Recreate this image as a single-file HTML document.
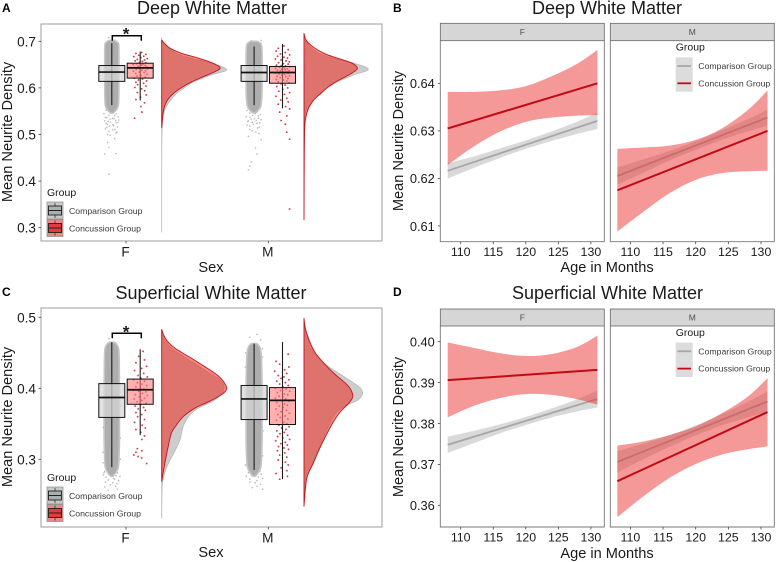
<!DOCTYPE html>
<html lang="en">
<head>
<meta charset="utf-8">
<title>Neurite density by sex and age</title>
<style>
html,body{margin:0;padding:0;background:#fff}
svg{display:block;font-family:"Liberation Sans",Arial,sans-serif}
text{fill:#1a1a1a}
.t{font-size:18px;text-anchor:middle}
.ax{font-size:14.6px;text-anchor:middle}
.lt{font-size:10.5px}
.ll{font-size:8.7px;fill:#3a3a3a}
.pl{font-size:12px;font-weight:bold;fill:#000}
.soft{filter:blur(.35px)}
</style>
</head>
<body>
<svg id="fig" xmlns="http://www.w3.org/2000/svg" width="776" height="562" viewBox="0 0 776 562">
<rect width="776" height="562" fill="#fff"/>
<text class="pl" x="2" y="12">A</text>
<text class="pl" x="393" y="12">B</text>
<text class="pl" x="2" y="296">C</text>
<text class="pl" x="393" y="296">D</text>
<text class="t" x="212" y="14">Deep White Matter</text>
<text class="t" x="607" y="14">Deep White Matter</text>
<text class="t" x="211" y="299">Superficial White Matter</text>
<text class="t" x="607.5" y="299">Superficial White Matter</text>
<text class="ax" x="211" y="272">Sex</text>
<text class="ax" x="211" y="557">Sex</text>
<text class="ax" x="607" y="272">Age in Months</text>
<text class="ax" x="607" y="558">Age in Months</text>
<text class="ax" transform="translate(12,132) rotate(-90)">Mean Neurite Density</text>
<text class="ax" transform="translate(12,417) rotate(-90)">Mean Neurite Density</text>
<text class="ax" transform="translate(403,141) rotate(-90)">Mean Neurite Density</text>
<text class="ax" transform="translate(403,427) rotate(-90)">Mean Neurite Density</text>
</svg>
<script>
/* ---------- categories and tick labels ---------- */
const sexCategories = ['F', 'M'];
const groupNames = ['Comparison Group', 'Concussion Group'];
const ticksA = [0.3, 0.4, 0.5, 0.6, 0.7];
const ticksC = [0.3, 0.4, 0.5];
const ticksB = [0.61, 0.62, 0.63, 0.64];
const ticksD = [0.36, 0.37, 0.38, 0.39, 0.40];
const ageTicks = [110, 115, 120, 125, 130];
const ageGrid = [108, 112, 116, 120, 124, 128, 131];
const ageEnds = [108, 131];

/* ---------- box stats: whisker low, q1, median, q3, whisker high ---------- */
const boxAFComp = [0.563, 0.614, 0.634, 0.648, 0.696];
const boxAFConc = [0.573, 0.621, 0.643, 0.653, 0.678];
const boxAMComp = [0.563, 0.614, 0.633, 0.648, 0.689];
const boxAMConc = [0.556, 0.610, 0.633, 0.646, 0.694];
const boxCFComp = [0.289, 0.359, 0.387, 0.4066, 0.465];
const boxCFConc = [0.334, 0.3775, 0.398, 0.413, 0.455];
const boxCMComp = [0.285, 0.356, 0.385, 0.404, 0.463];
const boxCMConc = [0.272, 0.349, 0.383, 0.401, 0.465];

/* ---------- density curves: value / relative density ---------- */
const densAFConcV = [.703,.696,.685,.674,.664,.653,.643,.635,.624,.613,.601,.588,.574,.553,.515];
const densAFConcD = [0,.04,.13,.31,.56,.79,.90,.82,.64,.46,.31,.18,.09,.03,0];
const densAFCompV = [.708,.696,.674,.664,.653,.639,.628,.613,.601,.588,.574,.553,.503,.29];
const densAFCompD = [0,.02,.23,.44,.77,1,.77,.49,.36,.23,.14,.05,.005,0];
const densAMConcV = [.717,.703,.689,.674,.664,.653,.641,.628,.613,.601,.588,.574,.553,.524,.467,.317];
const densAMConcD = [0,.03,.13,.31,.51,.74,.82,.69,.49,.36,.26,.15,.06,.015,.005,0];
const densAMCompV = [.703,.689,.674,.664,.653,.640,.628,.613,.601,.588,.574,.553,.524,.45];
const densAMCompD = [.02,.09,.23,.44,.77,.99,.77,.51,.37,.25,.15,.06,.015,0];
const densCFConcV = [.483,.475,.466,.456,.445,.433,.421,.412,.400,.391,.381,.372,.360,.346,.337,.318,.290,.269];
const densCFConcD = [0,.03,.09,.21,.41,.62,.82,.93,1,.92,.72,.51,.33,.21,.15,.10,.04,0];
const densCFCompV = [.482,.475,.466,.456,.445,.433,.421,.412,.402,.391,.381,.372,.360,.346,.327,.313,.299,.285,.269,.252,.217];
const densCFCompD = [0,.015,.06,.15,.33,.54,.74,.90,.96,.91,.77,.56,.41,.33,.28,.21,.13,.06,.015,.005,0];
const densCMConcV = [.4986,.487,.475,.463,.449,.435,.421,.407,.398,.388,.379,.367,.351,.332,.313,.294,.276,.257,.234];
const densCMConcD = [0,.015,.05,.10,.18,.31,.46,.64,.72,.75,.69,.56,.44,.33,.23,.14,.05,.02,0];
const densCMCompV = [.4986,.487,.475,.463,.449,.435,.421,.407,.400,.392,.383,.377,.367,.351,.332,.313,.294,.276,.257,.234];
const densCMCompD = [0,.01,.04,.09,.18,.31,.54,.77,.87,.90,.82,.67,.51,.40,.31,.22,.13,.05,.015,0];

/* ---------- dense comparison point clouds: value / half-spread in category units ---------- */
const cloudAFV = [.702,.699,.694,.675,.65,.60,.57,.56,.552,.546];
const cloudAFW = [.02,.036,.048,.05,.05,.05,.048,.044,.03,.008];
const cloudAMV = [.700,.697,.692,.675,.65,.60,.57,.56,.552,.546];
const cloudAMW = [.022,.04,.052,.056,.056,.056,.052,.046,.03,.008];
const cloudCFV = [.465,.462,.456,.44,.40,.33,.30,.288,.281,.276];
const cloudCFW = [.018,.034,.048,.052,.054,.054,.05,.045,.028,.008];
const cloudCMV = [.463,.460,.454,.44,.40,.33,.30,.288,.281,.276];
const cloudCMW = [.018,.034,.046,.052,.056,.056,.052,.046,.028,.008];

/* ---------- sparse points: [value, jitter] ---------- */
const sparseAF = [[.708,-.02],[.552,-.04],[.548,.01],[.545,-.055],[.544,.03],[.541,-.02],[.540,.02],[.538,.045],[.537,-.045],[.536,-.035],[.535,.005],[.534,.015],[.533,-.012],[.531,.05],[.530,.028],[.529,-.05],[.528,-.025],[.527,-.01],[.526,.044],[.525,.03],[.524,-.04],[.522,-.03],[.521,.008],[.519,.012],[.518,-.018],[.516,.04],[.515,-.036],[.512,-.045],[.511,.022],[.510,.006],[.507,-.02],[.505,.036],[.503,.03],[.500,-.03],[.498,-.012],[.491,.02],[.483,-.03],[.472,-.02],[.458,-.05],[.459,.03],[.415,-.02]];
const sparseAM = [[.702,.05],[.701,-.02],[.552,-.05],[.549,.02],[.546,-.03],[.545,.01],[.543,.045],[.541,-.01],[.540,.03],[.538,-.055],[.537,-.03],[.535,.03],[.534,.002],[.533,-.02],[.532,.05],[.530,.015],[.529,-.04],[.528,-.045],[.526,-.012],[.525,.04],[.524,.02],[.522,-.005],[.520,-.05],[.518,-.03],[.516,.036],[.514,.025],[.511,-.03],[.508,-.015],[.505,.012],[.502,.035],[.496,-.04],[.489,.05],[.471,.01],[.458,.02],[.441,-.02],[.432,-.03],[.424,-.04]];
const sparseCF = [[.283,-.05],[.281,.04],[.279,-.02],[.278,-.06],[.277,.03],[.276,.058],[.275,-.04],[.273,.012],[.272,.02],[.271,-.025],[.270,.048],[.268,-.045],[.267,.006],[.266,.035],[.264,-.01],[.262,.026],[.261,-.05],[.258,.04],[.256,-.025],[.281,-.055],[.470,-.02],[.300,.06],[.310,-.062],[.295,-.06],[.330,.06],[.345,-.06],[.375,.062]];
const sparseCM = [[.283,.04],[.281,-.04],[.279,.012],[.278,-.02],[.276,-.055],[.275,.03],[.279,.05],[.273,.06],[.272,-.03],[.270,.02],[.268,-.03],[.267,.008],[.265,.045],[.262,.02],[.260,-.014],[.472,-.03],[.468,.045],[.258,.06],[.292,-.06],[.305,.06],[.476,.02],[.456,.058],[.450,-.06],[.444,.06],[.430,-.062],[.340,.064]];
const pointsAFConc = [[.676,.01],[.674,-.03],[.672,.04],[.670,-.01],[.668,.025],[.667,-.045],[.665,.005],[.663,.05],[.661,-.02],[.660,.03],[.658,-.035],[.657,.015],[.655,-.005],[.654,.04],[.652,-.025],[.651,.02],[.650,-.05],[.649,.008],[.648,.035],[.646,-.015],[.645,.045],[.644,-.04],[.643,.022],[.642,-.008],[.641,.052],[.640,-.028],[.638,.012],[.637,.038],[.636,-.048],[.634,-.006],[.633,.028],[.631,-.032],[.629,.048],[.627,.004],[.625,-.022],[.623,.036],[.621,-.042],[.619,.016],[.617,-.012],[.615,.044],[.612,-.03],[.610,.024],[.607,-.018],[.604,.04],[.601,-.038],[.598,.01],[.594,.032],[.590,-.02],[.585,.042],[.580,.002],[.575,-.03],[.568,.03],[.560,.005],[.548,.012],[.535,-.04]];
const pointsAMConc = [[.690,.01],[.685,-.03],[.682,.04],[.679,-.045],[.676,.02],[.673,-.015],[.671,.05],[.668,-.035],[.666,.01],[.664,.035],[.662,-.05],[.660,-.01],[.658,.025],[.656,.048],[.654,-.028],[.652,.006],[.651,.04],[.649,-.042],[.648,-.008],[.647,.022],[.645,.052],[.644,-.02],[.643,.012],[.642,-.05],[.641,.034],[.640,-.004],[.639,.018],[.638,-.036],[.637,.046],[.636,-.014],[.635,.028],[.634,.002],[.632,-.046],[.631,.04],[.630,-.024],[.629,.014],[.628,-.004],[.626,.05],[.625,-.038],[.624,.024],[.622,-.016],[.620,.038],[.618,-.044],[.617,.006],[.615,.03],[.613,-.03],[.611,.045],[.609,-.01],[.606,.018],[.603,-.04],[.600,.036],[.597,.002],[.593,-.026],[.590,.05],[.586,.014],[.582,-.046],[.578,.03],[.574,-.012],[.570,.04],[.565,-.03],[.560,.022],[.555,.05],[.548,-.02],[.540,.03],[.530,-.01],[.522,.02],[.505,.03],[.490,.05],[.340,.05]];
const pointsCFConc = [[.452,.02],[.445,-.01],[.440,.03],[.436,-.03],[.431,.045],[.428,.01],[.425,-.04],[.421,.025],[.418,-.015],[.416,.05],[.414,.005],[.412,-.045],[.410,.03],[.408,-.02],[.406,.014],[.404,.045],[.402,-.03],[.400,.002],[.399,.026],[.397,-.05],[.396,-.012],[.395,.04],[.393,.016],[.391,-.034],[.390,.05],[.388,-.006],[.386,.03],[.385,-.042],[.383,.012],[.381,-.022],[.379,.042],[.377,.002],[.375,-.036],[.373,.024],[.371,-.014],[.369,.036],[.366,-.03],[.363,.01],[.360,-.018],[.356,.03],[.352,-.04],[.348,.014],[.344,.036],[.342,-.03],[.338,.004],[.333,.03],[.328,.012],[.315,-.02],[.312,.012],[.310,-.03],[.306,-.045],[.304,-.015],[.302,.01],[.294,.045]];
const pointsCMConc = [[.448,.04],[.438,-.045],[.434,-.02],[.430,.045],[.426,.015],[.424,-.055],[.421,.03],[.418,-.03],[.416,.01],[.414,-.01],[.412,.045],[.410,-.04],[.408,.02],[.406,-.02],[.404,.04],[.402,.002],[.400,-.05],[.399,.026],[.397,-.014],[.396,.05],[.394,-.036],[.392,.012],[.391,.036],[.389,-.024],[.388,.002],[.386,-.05],[.385,.022],[.383,-.008],[.382,.045],[.380,-.04],[.378,.014],[.376,.034],[.375,-.022],[.373,.004],[.371,-.046],[.369,.028],[.367,-.01],[.365,.048],[.363,-.032],[.361,.018],[.359,-.016],[.357,.038],[.355,-.042],[.352,.008],[.350,.03],[.348,-.026],[.346,.046],[.344,-.006],[.342,.024],[.340,-.04],[.338,.012],[.336,-.018],[.334,.036],[.332,-.034],[.330,.002],[.328,.05],[.326,-.048],[.324,.02],[.322,-.012],[.320,.034],[.318,-.028],[.316,.01],[.314,.042],[.312,-.036],[.309,.016],[.306,-.02],[.303,.03],[.299,-.03],[.296,.02],[.292,.04],[.288,-.01],[.284,.03],[.280,-.045],[.276,.035],[.272,-.02]];

/* ---------- trend lines and confidence ribbons ---------- */
const lineBFConc = [.6305, .6400];
const lineBFComp = [.6216, .6321];
const lineBMConc = [.6175, .6300];
const lineBMComp = [.6205, .6328];
const lineDFConc = [.3906, .3931];
const lineDFComp = [.3748, .3860];
const lineDMConc = [.3659, .3828];
const lineDMComp = [.3706, .3854];
const hiBFConc = [.6382,.6382,.6385,.6394,.6415,.6442,.6470];
const loBFConc = [.6228,.6267,.6298,.6319,.6328,.6332,.6333];
const hiBFComp = [.6232,.6246,.6263,.6280,.6299,.6320,.6338];
const loBFComp = [.6200,.6222,.6243,.6262,.6279,.6294,.6304];
const hiBMConc = [.6262,.6265,.6269,.6281,.6305,.6344,.6385];
const loBMConc = [.6088,.6130,.6169,.6197,.6211,.6215,.6216];
const hiBMComp = [.6223,.6240,.6258,.6278,.6301,.6325,.6345];
const loBMComp = [.6187,.6212,.6238,.6260,.6281,.6299,.6311];
const hiDFConc = [.3998,.3985,.3972,.3965,.3970,.3988,.4015];
const loDFConc = [.3815,.3843,.3862,.3872,.3870,.3859,.3846];
const hiDFComp = [.3768,.3782,.3798,.3816,.3837,.3860,.3881];
const loDFComp = [.3728,.3752,.3776,.3796,.3815,.3830,.3839];
const hiDMConc = [.3746,.3756,.3772,.3793,.3825,.3866,.3911];
const loDMConc = [.3571,.3622,.3667,.3701,.3724,.3737,.3744];
const hiDMComp = [.3732,.3751,.3771,.3795,.3823,.3853,.3879];
const loDMComp = [.3680,.3713,.3743,.3771,.3795,.3815,.3829];

/* ---------- helpers ---------- */
const NS = 'http://www.w3.org/2000/svg';
const fig = document.getElementById('fig');
const GREY_FILL = 'rgba(215,215,215,.72)';
const RED_FILL = 'rgba(255,120,120,.58)';

function mk(parent, tag, attrs, txt) {
  const e = document.createElementNS(NS, tag);
  for (const k in attrs) e.setAttribute(k, attrs[k]);
  if (txt !== undefined) e.textContent = txt;
  parent.appendChild(e);
  return e;
}
function smooth(pts, move) {
  let d = (move ? 'M' : 'L') + pts[0][0].toFixed(2) + ' ' + pts[0][1].toFixed(2);
  for (let i = 0; i < pts.length - 1; i++) {
    const p0 = pts[Math.max(i - 1, 0)], p1 = pts[i], p2 = pts[i + 1], p3 = pts[Math.min(i + 2, pts.length - 1)];
    const c1 = [p1[0] + (p2[0] - p0[0]) / 6, p1[1] + (p2[1] - p0[1]) / 6];
    const c2 = [p2[0] - (p3[0] - p1[0]) / 6, p2[1] - (p3[1] - p1[1]) / 6];
    d += 'C' + c1[0].toFixed(2) + ' ' + c1[1].toFixed(2) + ' ' + c2[0].toFixed(2) + ' ' + c2[1].toFixed(2) + ' ' + p2[0].toFixed(2) + ' ' + p2[1].toFixed(2);
  }
  return d;
}

/* ---------- raincloud panels ---------- */
const xCat = c => 126 + c * 142.3;
const yA = v => 41.3 + (0.7 - v) * 466;
const yC = v => 388.3 + (0.4 - v) * 710;
const DENS_PX = 65;

function frame(name, top, bottom, y, ticks, fmt) {
  const g = mk(fig, 'g', {});
  
  
  const border = mk(g, 'rect', {x: 41, y: top, width: 341, height: bottom - top, fill: 'none', stroke: '#a6a6a6', 'stroke-width': 1.1});
  
  
  ticks.forEach(t => {
    const tk = mk(g, 'line', {x1: 38.5, x2: 41, y1: y(t), y2: y(t), stroke: '#444', 'stroke-width': .8});
    
    
    const lb = mk(g, 'text', {x: 36, y: y(t) + 5, 'text-anchor': 'end', 'font-size': 13.6}, t.toFixed(fmt));
    
    
  });
  sexCategories.forEach((s, c) => {
    const tk = mk(g, 'line', {x1: xCat(c), x2: xCat(c), y1: bottom, y2: bottom + 2.5, stroke: '#444', 'stroke-width': .8});
    
    
    const lb = mk(g, 'text', {x: xCat(c) - .5, y: bottom + 15.5, 'text-anchor': 'middle', 'font-size': 13.6}, s);
    
    
  });
  return g;
}
function cloud(g, c, y, vals, widths, sparse) {
  const cx = xCat(c) - 14.2;
  const wrap = mk(g, 'g', {class: 'soft'});
  
  
  const right = vals.map((v, i) => [cx + widths[i] * 142.3, y(v)]);
  const left = vals.map((v, i) => [cx - widths[i] * 142.3, y(v)]).reverse();
  const band = mk(wrap, 'path', {d: smooth(right, true) + smooth(left, false) + 'Z', fill: '#adadad', stroke: '#c6c6c6', 'stroke-width': 1.6, 'stroke-linejoin': 'round'});
  
  
  sparse.forEach(p => {
    const d = mk(wrap, 'circle', {cx: cx + p[1] * 142.3, cy: y(p[0]), r: .8, fill: '#b8b8b8'});
    
    
  });
}
function points(g, c, y, pts) {
  const cx = xCat(c) + 14.2;
  const wrap = mk(g, 'g', {class: 'soft'});
  
  
  pts.forEach(p => {
    const d = mk(wrap, 'circle', {cx: cx + p[1] * 142.3, cy: y(p[0]), r: .95, fill: '#c8101c', 'fill-opacity': .8});
    
    
  });
}
function box(g, c, off, y, s, fill, name) {
  const cx = xCat(c) + off;
  const wh = mk(g, 'line', {x1: cx, x2: cx, y1: y(s[4]), y2: y(s[0]), stroke: '#1c1c1c', 'stroke-width': 1.1});
  
  
  const r = mk(g, 'rect', {x: cx - 13, y: y(s[3]), width: 26, height: y(s[1]) - y(s[3]), fill: fill, stroke: '#111', 'stroke-width': 1});
  
  
  const m = mk(g, 'line', {x1: cx - 13, x2: cx + 13, y1: y(s[2]), y2: y(s[2]), stroke: '#111', 'stroke-width': 1.7});
  
  
}
function density(g, c, y, vals, dens, fill, stroke, sw, name) {
  const base = xCat(c) + 35.7;
  const pts = vals.map((v, i) => [base + dens[i] * DENS_PX, y(v)]);
  const p = mk(g, 'path', {d: smooth(pts, true) + 'Z', fill: fill, stroke: stroke, 'stroke-width': sw, 'stroke-linejoin': 'round'});
  
  
}
function bracket(g, c, y, v, drop) {
  const x1 = xCat(c) - 13.7, x2 = xCat(c) + 15.3, yy = y(v);
  const b = mk(g, 'path', {d: 'M' + x1 + ' ' + (yy + drop) + 'V' + yy + 'H' + x2 + 'V' + (yy + drop), fill: 'none', stroke: '#000', 'stroke-width': 1.5});
  
  
  const st = mk(g, 'text', {x: xCat(c), y: yy + 4, 'text-anchor': 'middle', 'font-size': 17, 'font-weight': 'bold'}, '*');
  
  
}
function boxLegend(g, top) {
  const ti = mk(g, 'text', {x: 47, y: top, class: 'lt'}, 'Group');
  
  
  groupNames.forEach((n, i) => {
    const y0 = top + 6 + i * 17.5;
    const bg = mk(g, 'rect', {x: 47, y: y0, width: 16, height: 17, fill: i ? '#e88a84' : '#c9c9c9', stroke: '#8a8a8a', 'stroke-width': .7});
    
    
    const w = mk(g, 'line', {x1: 55, x2: 55, y1: y0 + 1, y2: y0 + 16, stroke: '#333', 'stroke-width': .8});
    
    
    const r = mk(g, 'rect', {x: 48.5, y: y0 + 4, width: 13, height: 9, fill: i ? '#e23b3b' : '#a9b0b4', stroke: '#222', 'stroke-width': .9});
    
    
    const m = mk(g, 'line', {x1: 48.5, x2: 61.5, y1: y0 + 8.5, y2: y0 + 8.5, stroke: '#222', 'stroke-width': 1});
    
    
    const t = mk(g, 'text', {x: 69, y: y0 + 12, class: 'll'}, n);
    
    
  });
}
function raincloud(name, top, bottom, y, ticks, fmt, sets, brV, drop, legTop) {
  const g = frame(name, top, bottom, y, ticks, fmt);
  sets.forEach((s, c) => {
    cloud(g, c, y, s.cv, s.cw, s.sp);
    points(g, c, y, s.pts);
    box(g, c, -14.2, y, s.bc, GREY_FILL, 'comparison');
    box(g, c, 14.2, y, s.bx, RED_FILL, 'concussion');
    density(g, c, y, s.dcv, s.dcd, '#cdcdcd', '#b8b8b8', .8, 'comparison-density');
    density(g, c, y, s.dxv, s.dxd, 'rgba(236,40,30,.55)', '#c4141c', .9, 'concussion-density');
  });
  bracket(g, 0, y, brV, drop);
  boxLegend(g, legTop);
}
raincloud('panel-a', 24, 241, yA, ticksA, 1, [
  {cv: cloudAFV, cw: cloudAFW, sp: sparseAF, pts: pointsAFConc, bc: boxAFComp, bx: boxAFConc, dcv: densAFCompV, dcd: densAFCompD, dxv: densAFConcV, dxd: densAFConcD},
  {cv: cloudAMV, cw: cloudAMW, sp: sparseAM, pts: pointsAMConc, bc: boxAMComp, bx: boxAMConc, dcv: densAMCompV, dcd: densAMCompD, dxv: densAMConcV, dxd: densAMConcD}
], 0.712, 5, 196);
raincloud('panel-c', 308, 527, yC, ticksC, 1, [
  {cv: cloudCFV, cw: cloudCFW, sp: sparseCF, pts: pointsCFConc, bc: boxCFComp, bx: boxCFConc, dcv: densCFCompV, dcd: densCFCompD, dxv: densCFConcV, dxd: densCFConcD},
  {cv: cloudCMV, cw: cloudCMW, sp: sparseCM, pts: pointsCMConc, bc: boxCMComp, bx: boxCMConc, dcv: densCMCompV, dcd: densCMCompD, dxv: densCMConcV, dxd: densCMConcD}
], 0.4775, 5, 481);

/* ---------- trend panels ---------- */
const yB = v => 83.3 + (0.64 - v) * 4755;
const yD = v => 341.7 + (0.40 - v) * 4090;
const xF = a => 460.7 + (a - 110) * 6.51;
const xM = a => 630.4 + (a - 110) * 6.53;

function ribbon(g, x, y, hi, lo, fill, name) {
  const up = ageGrid.map((a, i) => [x(a), y(hi[i])]);
  const dn = ageGrid.map((a, i) => [x(a), y(lo[i])]).reverse();
  const p = mk(g, 'path', {d: smooth(up, true) + smooth(dn, false) + 'Z', fill: fill});
  
  
}
function trend(g, x, y, vals, color, w, name) {
  const l = mk(g, 'line', {x1: x(ageEnds[0]), x2: x(ageEnds[1]), y1: y(vals[0]), y2: y(vals[1]), stroke: color, 'stroke-width': w});
  
  
}
function facet(g, left, label, stripTop, stripBot, bottom, x, y, ticks, showY, s) {
  const st = mk(g, 'rect', {x: left, y: stripTop, width: 164, height: stripBot - stripTop, fill: '#d6d6d6', stroke: '#666', 'stroke-width': .8});
  
  
  const sl = mk(g, 'text', {x: left + 82, y: stripBot - 5.5, 'text-anchor': 'middle', 'font-size': 8.5, style: 'fill:#4d4d4d'}, label);
  
  
  ribbon(g, x, y, s.hc, s.lc, 'rgba(130,130,130,.3)', 'comparison');
  trend(g, x, y, s.c, '#a6a6a6', 1.8, 'comparison');
  ribbon(g, x, y, s.hx, s.lx, 'rgba(236,50,50,.5)', 'concussion');
  trend(g, x, y, s.x, '#c00a14', 2, 'concussion');
  const b = mk(g, 'path', {d: 'M' + left + ' ' + stripBot + 'V' + bottom + 'H' + (left + 164) + 'V' + stripBot, fill: 'none', stroke: '#777', 'stroke-width': .9});
  
  
  ageTicks.forEach(a => {
    const tk = mk(g, 'line', {x1: x(a), x2: x(a), y1: bottom, y2: bottom + 2.5, stroke: '#444', 'stroke-width': .8});
    
    
    const lb = mk(g, 'text', {x: x(a), y: bottom + 14.5, 'text-anchor': 'middle', 'font-size': 12.4}, a);
    
    
  });
  if (showY) ticks.forEach(t => {
    const tk = mk(g, 'line', {x1: left - 2.5, x2: left, y1: y(t), y2: y(t), stroke: '#444', 'stroke-width': .8});
    
    
    const lb = mk(g, 'text', {x: left - 5.5, y: y(t) + 4.8, 'text-anchor': 'end', 'font-size': 12.8}, t.toFixed(2));
    
    
  });
}
function lineLegend(g, titleY) {
  const ti = mk(g, 'text', {x: 675.7, y: titleY, class: 'lt'}, 'Group');
  
  
  const bg = mk(g, 'rect', {x: 675.7, y: titleY + 6.6, width: 17, height: 34.4, fill: '#dcdcdc'});
  
  
  groupNames.forEach((n, i) => {
    const ly = titleY + 15.3 + i * 17.3;
    const l = mk(g, 'line', {x1: 677.4, x2: 691, y1: ly, y2: ly, stroke: i ? '#c00a14' : '#a6a6a6', 'stroke-width': 1.8});
    
    
    const t = mk(g, 'text', {x: 698.3, y: ly + 3, class: 'll'}, n);
    
    
  });
}
function trendPanel(name, stripTop, stripBot, bottom, y, ticks, sF, sM, titleY) {
  const g = mk(fig, 'g', {});
  
  
  facet(g, 440.3, sexCategories[0], stripTop, stripBot, bottom, xF, y, ticks, true, sF);
  facet(g, 610.3, sexCategories[1], stripTop, stripBot, bottom, xM, y, ticks, false, sM);
  lineLegend(g, titleY);
}
trendPanel('panel-b', 23.3, 40.7, 241.7, yB, ticksB,
  {hc: hiBFComp, lc: loBFComp, hx: hiBFConc, lx: loBFConc, c: lineBFComp, x: lineBFConc},
  {hc: hiBMComp, lc: loBMComp, hx: hiBMConc, lx: loBMConc, c: lineBMComp, x: lineBMConc}, 50.7);
trendPanel('panel-d', 309, 326, 527, yD, ticksD,
  {hc: hiDFComp, lc: loDFComp, hx: hiDFConc, lx: loDFConc, c: lineDFComp, x: lineDFConc},
  {hc: hiDMComp, lc: loDMComp, hx: hiDMConc, lx: loDMConc, c: lineDMComp, x: lineDMConc}, 336);
</script>
</body>
</html>
